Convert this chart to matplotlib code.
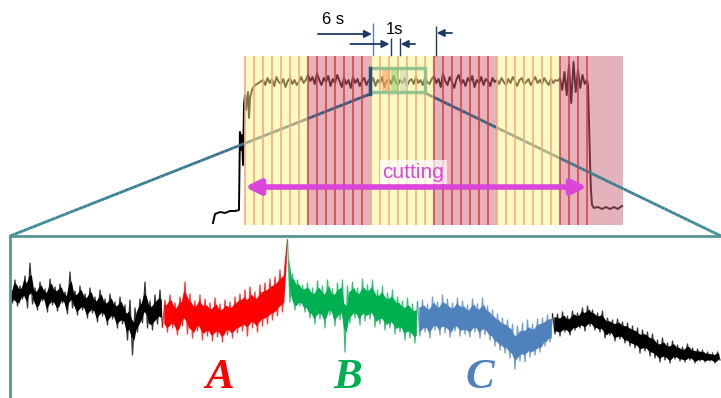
import numpy as np
import matplotlib.pyplot as plt
from matplotlib.collections import LineCollection
from matplotlib.colors import LinearSegmentedColormap

# ---- overview trace (upper panel), time in s, signal in arbitrary units ----
ramp_t = [-3.56, -3.33, -2.78, -2.22, -1.67, -1.11, -0.67, -0.56, -0.44, -0.33, -0.22, -0.17,
          -0.11, 0.0, 0.11, 0.22, 0.33, 0.44, 0.56, 0.78, 1.0, 1.33, 1.67]
ramp_v = [7, 16, 18, 17, 19, 19, 20, 98, 80, 95, 65, 90,
          125, 135, 120, 130, 138, 112, 132, 140, 144, 146, 148]

plateau_start = 2.0
plateau_dt = 0.25
plateau_v = [
    150, 145, 152, 147, 151, 144, 153, 148, 146, 151, 143, 149, 152, 146, 150, 145, 148, 153, 147, 150,
    155, 149, 153, 146, 157, 150, 145, 152, 148, 154, 144, 151, 147, 155, 149, 143, 152, 146, 150, 142,
    153, 147, 151, 144, 149, 152, 145, 150,
    148, 152, 144, 150, 147, 153, 143, 149, 151, 146, 154, 148, 145, 150, 147, 152, 144, 149, 151, 146,
    153, 147, 150, 145, 152, 148, 146, 151,
    154, 147, 151, 143, 156, 149, 145, 153, 148, 142, 151, 155, 146, 150, 144, 152, 148, 154, 143, 150,
    147, 153, 145, 151, 149, 144, 152, 148,
    150, 146, 152, 148, 145, 151, 147, 153, 149, 144, 150, 152, 146, 148, 151, 145, 149, 153, 147, 150,
    146, 152, 148, 145, 151, 147, 150, 149,
    152, 140, 158, 135, 165, 127, 168, 138, 160, 142, 155, 146, 150,
]

drop_t = [38.11, 38.22, 38.33, 38.44, 38.56, 38.78, 39.2, 39.67, 40.1, 40.56, 41.0, 41.4, 41.9]
drop_v = [145, 110, 70, 40, 25, 22, 23, 21, 23, 21, 23, 21, 24]

# cutting phases (7 s each) and 1 s marks
band_starts = [0, 7, 14, 21, 28, 35]
band_kind = ['y', 'r', 'y', 'r', 'y', 'r']
band_len = 7
sec_marks = list(range(0, 39))
cut_end = 38

# annotated windows
win_start, win_end = 14.2, 21.2
sec_start, sec_end = 16.2, 17.2
zoom_t0, zoom_t1 = 13.9, 20.0
zoom_sub_t = [15.2, 16.2, 17.2]
zoom_sub_col = ['#f7a35c', '#8fd06a', '#c9d6b8']

# ---- zoomed trace (lower panel) ----
zoom_dt = 0.02
seg_start = [0.0, 1.24, 2.24, 3.28, 4.36]
seg_color = ['black', '#ff0000', '#00b050', '#4f81bd', 'black']
seg_label = ['', 'A', 'B', 'C', '']
seg_v = [
    [108, 95, 118, 92, 112, 99, 122, 90, 135, 94,
     110, 88, 116, 97, 109, 86, 119, 93, 111, 87,
     114, 95, 106, 84, 126, 90, 107, 83, 112, 88,
     104, 80, 110, 85, 101, 76, 108, 82, 99, 73,
     104, 79, 96, 70, 101, 74, 93, 58, 98, 43,
     90, 66, 99, 75, 116, 70, 97, 68, 103, 74,
     108, 71],
    [98, 66, 103, 70, 95, 63, 101, 72, 116, 64,
     104, 60, 97, 67, 103, 58, 99, 62, 95, 57,
     100, 61, 94, 56, 98, 63, 96, 60, 101, 65,
     104, 67, 108, 62, 111, 70, 106, 66, 113, 72,
     115, 74, 119, 78, 121, 82, 128, 86, 133, 158],
    [96, 124, 88, 118, 92, 113, 86, 115, 80, 110,
     74, 117, 79, 112, 70, 118, 83, 109, 72, 115,
     78, 118, 46, 112, 75, 116, 80, 110, 73, 119,
     77, 113, 79, 118, 71, 108, 74, 112, 68, 105,
     70, 108, 64, 101, 66, 97, 58, 100, 60, 94,
     55, 96],
    [62, 98, 66, 94, 60, 101, 68, 96, 63, 103,
     65, 99, 61, 95, 67, 100, 62, 97, 64, 93,
     61, 99, 66, 94, 60, 100, 63, 92, 58, 88,
     52, 84, 48, 80, 45, 78, 40, 74, 29, 72,
     37, 75, 36, 78, 41, 74, 43, 79, 46, 80,
     52, 83, 56, 84],
    [64, 84, 62, 86, 66, 82, 63, 87, 68, 85,
     70, 90, 67, 92, 72, 88, 68, 85, 66, 87,
     60, 80, 63, 78, 57, 79, 59, 76, 55, 75,
     52, 72, 50, 70, 45, 68, 47, 66, 42, 64,
     40, 58, 36, 60, 38, 55, 35, 57, 39, 53,
     37, 51, 36, 54, 38, 50, 35, 49, 37, 48,
     36, 46, 37, 45, 35, 46, 38],
]

W, H = 721, 398
fig = plt.figure(figsize=(W / 100, H / 100), dpi=100)

# ---------------- axes ----------------
ax = fig.add_axes([200 / W, 168 / H, 440 / W, 220 / H])
ax.set_xlim(-5, 43.89)
ax.set_ylim(0, 220)
ax.axis('off')

ax2 = fig.add_axes([10 / W, 0, 711 / W, 162 / H])
ax2.set_xlim(0, 5.688)
ax2.set_ylim(0, 162)
ax2.set_xticks([])
ax2.set_yticks([])
ax2.patch.set_visible(False)
for side in ['right', 'bottom']:
    ax2.spines[side].set_visible(False)
for side in ['left', 'top']:
    ax2.spines[side].set_color('#5b9497')
    ax2.spines[side].set_linewidth(2)

# ---------------- upper panel ----------------
t_plateau = plateau_start + plateau_dt * np.arange(len(plateau_v))
t_all = np.concatenate([ramp_t, t_plateau, drop_t])
v_all = np.concatenate([ramp_v, plateau_v, drop_v])
ax.plot(t_all, v_all, color='black', lw=1.4, zorder=2)

y_idx = [i for i, k in enumerate(band_kind) if k == 'y']
r_idx = [i for i, k in enumerate(band_kind) if k == 'r']
ax.bar([band_starts[i] for i in r_idx], 169, bottom=5, width=band_len, align='edge',
       color='#c96979', alpha=0.5, lw=0, zorder=3)
ax.bar([band_starts[i] for i in y_idx], 169, bottom=5, width=band_len, align='edge',
       color='#fff58a', alpha=0.5, lw=0, zorder=3.6)

mark_col = []
for m in sec_marks:
    k = band_kind[min(m // band_len, len(band_kind) - 1)]
    mark_col.append('#f8a87a' if k == 'y' else '#e8343c')
ax.vlines(sec_marks, 5, 174, colors=mark_col, lw=1.1, zorder=4)

# zoom window
ax.bar(zoom_sub_t, 24, bottom=138, width=0.95, align='edge', color=zoom_sub_col,
       alpha=0.6, lw=0, zorder=5)
ax.add_patch(plt.Rectangle((zoom_t0, 138), zoom_t1 - zoom_t0, 24, fill=False,
                           edgecolor='#8cc08c', lw=2.5, alpha=0.9, zorder=6))
ax.plot([zoom_t0, zoom_t0], [136, 162], color='#2f4d70', lw=2.5, zorder=7)

# window annotations
navy = '#1f3864'
akw = dict(arrowstyle='-|>', color=navy, lw=1.3, mutation_scale=11, shrinkA=0, shrinkB=0)
ax.vlines([win_start], 174, 207, colors='#5f82a8', lw=1.0)
ax.vlines([sec_start, sec_end], 174, 192, colors=navy, lw=1.0)
ax.vlines([win_end], 174, 204, colors=navy, lw=1.0)
ax.annotate('', xy=(win_start - 0.1, 196), xytext=(win_start - 6.1, 196), arrowprops=akw)
ax.annotate('', xy=(win_end + 0.1, 197), xytext=(win_end + 1.8, 197), arrowprops=akw)
ax.annotate('', xy=(sec_start - 0.15, 186), xytext=(sec_start - 4.5, 186), arrowprops=akw)
ax.annotate('', xy=(sec_end + 0.1, 186), xytext=(sec_end + 1.7, 186), arrowprops=akw)
ax.text(9.8, 211, '6 s', fontsize=12, family='Liberation Sans', ha='center', va='center')
ax.text(16.6, 200, '1s', fontsize=12, family='Liberation Sans', ha='center', va='center')

# cutting arrow
magenta = '#d946d9'
ax.annotate('', xy=(cut_end, 43), xytext=(0, 43),
            arrowprops=dict(arrowstyle='<|-|>', color=magenta, lw=4, mutation_scale=22,
                            shrinkA=0, shrinkB=0), zorder=8)
ax.text(18.7, 58, 'cutting', fontsize=15, family='Liberation Sans', color=magenta,
        ha='center', va='center', zorder=8,
        bbox=dict(facecolor='white', edgecolor='none', alpha=0.7, pad=2))

# ---------------- lower panel ----------------
prev = None
for t0, vals, col, lab in zip(seg_start, seg_v, seg_color, seg_label):
    tt = t0 + zoom_dt * np.arange(len(vals))
    vv = np.array(vals, dtype=float)
    if prev is not None:
        tt = np.concatenate([[prev[0]], tt])
        vv = np.concatenate([[prev[1]], vv])
    # solid core of the dense recording, thin spikes around it
    lo = np.minimum(vv[:-1], vv[1:])
    hi = np.maximum(vv[:-1], vv[1:])
    mid = (lo + hi) / 2
    half = (hi - lo) / 2
    core = np.minimum(half, np.median(half)) * 0.7
    tc = (tt[:-1] + tt[1:]) / 2
    ax2.fill_between(tc, mid - core, mid + core, color=col, lw=0)
    ax2.plot(tt, vv, color=col, lw=0.9, alpha=0.8)
    prev = (tt[-1], vv[-1])
    if lab:
        tm = t0 + zoom_dt * (len(vals) - 1) / 2
        ax2.text(tm - 0.05, 20, lab, color=col, fontsize=31, family='Liberation Serif',
                 fontweight='bold', fontstyle='italic', ha='center', va='center')

# ---------------- connector lines (drawn in the upper axes, under the yellow bands) ----------------
to_up = ax.transData.inverted()
p_ul = np.array([zoom_t0, 136])
p_ur = np.array([zoom_t1, 137])
p_ll = to_up.transform(ax2.transAxes.transform((0, 1)))
p_lr = to_up.transform(ax2.transAxes.transform((1, 1)))


def gradient_line(p0, p1, colors):
    cmap = LinearSegmentedColormap.from_list('g', colors)
    pts = np.linspace(p0, p1, 80)
    segs = np.stack([pts[:-1], pts[1:]], axis=1)
    lc = LineCollection(segs, colors=cmap(np.linspace(0, 1, len(segs))), lw=2,
                        zorder=3.3, clip_on=False)
    ax.add_collection(lc)


gradient_line(p_ll, p_ul, ['#3f8e98', '#3a7a90', '#35597c'])
gradient_line(p_ur, p_lr, ['#35597c', '#3a7a90', '#3f8e98'])

fig.savefig('out.png', dpi=100)
